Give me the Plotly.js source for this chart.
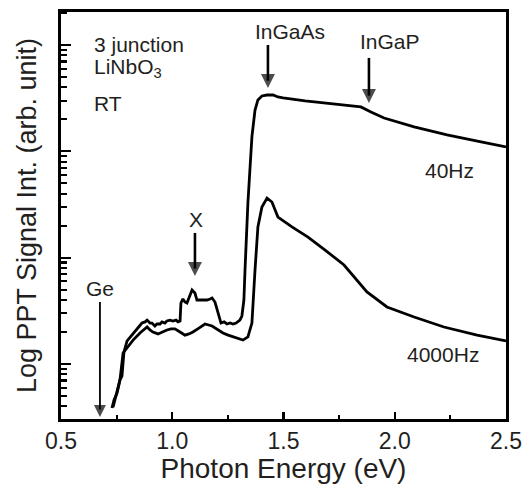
<!DOCTYPE html>
<html>
<head>
<meta charset="utf-8">
<script src="https://cdn.plot.ly/plotly-3.0.1.min.js"></script>
<style>html,body{margin:0;padding:0;background:#fff;}#chart{width:528px;height:484px;}</style>
</head>
<body>
<div id="chart"></div>
<script>
// Photon energy (eV) and signal (arb. unit)
const energy40 = [0.734,0.747,0.756,0.765,0.774,0.783,0.797,0.819,0.842,0.864,0.878,0.887,0.900,0.909,0.922,0.931,0.945,0.954,0.967,0.976,0.990,1.003,1.017,1.026,1.035,1.039,1.048,1.057,1.066,1.075,1.089,1.102,1.111,1.134,1.156,1.170,1.179,1.192,1.201,1.210,1.219,1.233,1.246,1.260,1.273,1.287,1.304,1.313,1.322,1.327,1.340,1.358,1.372,1.385,1.403,1.426,1.453,1.475,1.498,1.597,1.687,1.776,1.848,1.893,1.952,2.087,2.235,2.388,2.500];
const signal40 = [0.394,0.50,0.62,0.71,0.77,1.30,1.65,1.87,2.18,2.43,2.49,2.59,2.43,2.43,2.28,2.38,2.38,2.49,2.43,2.54,2.59,2.54,2.59,2.49,2.54,3.75,4.09,3.83,3.75,4.27,4.97,4.65,4.00,4.00,4.00,4.09,4.18,3.83,3.22,2.71,2.43,2.49,2.38,2.43,2.38,2.43,2.59,2.83,4.00,7.66,32.7,137,245,305,332,339,339,325,318,298,285,273,262,235,206,170,143,123,110];

const energy4000 = [0.729,0.738,0.752,0.756,0.765,0.779,0.801,0.824,0.855,0.873,0.887,0.900,0.913,0.936,0.954,0.976,0.994,1.012,1.035,1.057,1.075,1.093,1.120,1.147,1.179,1.206,1.228,1.251,1.273,1.296,1.318,1.340,1.349,1.358,1.372,1.385,1.403,1.426,1.448,1.475,1.538,1.610,1.687,1.772,1.875,1.965,2.087,2.221,2.370,2.500];
const signal4000 = [0.386,0.458,0.534,0.594,0.707,1.27,1.45,1.68,1.96,2.09,2.23,2.09,2.00,1.92,2.00,2.09,2.14,2.14,2.00,1.87,1.92,2.00,2.18,2.38,2.28,2.09,1.96,1.87,1.80,1.72,1.68,1.80,2.09,2.43,7.66,19.5,30.0,36.4,33.4,24.1,19.5,15.6,11.8,8.54,4.76,3.44,2.77,2.23,1.87,1.65];

const xTickVals = [0.5,1.0,1.5,2.0,2.5];
const xTickText = ["0.5","1.0","1.5","2.0","2.5"];

// Labelled band edges
const edgeLabels = ["Ge","X","InGaAs","InGaP"];
const edgeEnergy = [0.675,1.102,1.430,1.884];
// arrow tail / head heights (arb. unit)
const arrowTail = [3.83, 17.1, 1002, 757];
const arrowHead = [0.318, 6.73, 394, 285];

const FONT = "Liberation Sans, Arial, Helvetica, sans-serif";
const TXT = "#231f20";

const lineStyle = {color:"#000", width:2.8};
const traces = [
  {x: energy40, y: signal40, mode:"lines", line: lineStyle, name:"40Hz", hoverinfo:"skip"},
  {x: energy4000, y: signal4000, mode:"lines", line: lineStyle, name:"4000Hz", hoverinfo:"skip"}
];

// arrow shafts (Ge thinner) ending just inside the arrow heads
function shaft(idx, w){
  const xs = [], ys = [];
  idx.forEach(i => {
    xs.push(edgeEnergy[i], edgeEnergy[i], null);
    ys.push(arrowTail[i], arrowHead[i] * Math.pow(10, 0.07), null);
  });
  return {x:xs, y:ys, mode:"lines", line:{color:"#000", width:w}, hoverinfo:"skip", connectgaps:false};
}
traces.push(shaft([0], 1.8));
traces.push(shaft([1,2,3], 2.6));
traces.push({x: edgeEnergy, y: arrowHead, mode:"markers", hoverinfo:"skip",
  marker:{symbol:"arrow-down", size:[12,14,14,14], color:"#000", line:{width:0}}});

const ann = [];
function label(text, x, y, anchor){
  ann.push({x:x, y:y, xref:"x", yref:"y", text:text, showarrow:false,
    xanchor: anchor || "center", yanchor:"middle",
    font:{family:FONT, size:21, color:TXT}});
}
// labels (y in log10 units, as Plotly expects on log axes)
label(edgeLabels[0], 0.675, 0.715);
label(edgeLabels[1], 1.105, 1.355);
label(edgeLabels[2], 1.529, 3.125);
label(edgeLabels[3], 1.979, 3.029);
label("40Hz", 2.248, 1.816);
label("4000Hz", 2.217, 0.085);
label("3 junction", 0.639, 3.010, "left");
label("LiNbO<sub>3</sub>", 0.639, 2.78, "left");
label("RT", 0.639, 2.446, "left");

const layout = {
  width:528, height:484,
  margin:{l:61, r:22, t:12, b:65, pad:0},
  paper_bgcolor:"#fff", plot_bgcolor:"#fff",
  showlegend:false,
  font:{family:FONT, color:TXT},
  xaxis:{
    range:[0.5,2.5], tickmode:"array", tickvals:xTickVals, ticktext:xTickText,
    ticks:"inside", ticklen:7, tickwidth:2.2, tickcolor:"#000",
    minor:{ticks:"inside", ticklen:4, tickwidth:2.2, tickcolor:"#000", dtick:0.25, tick0:0.5, showgrid:false},
    showline:true, linewidth:2.6, linecolor:"#000", mirror:true,
    showgrid:false, zeroline:false,
    tickfont:{family:FONT, size:23, color:TXT},
    title:{text:"Photon Energy (eV)", font:{family:FONT, size:28, color:TXT}, standoff:10},
    automargin:false
  },
  yaxis:{
    type:"log", range:[-0.517, 3.311], dtick:1,
    ticks:"inside", ticklen:10, tickwidth:2.2, tickcolor:"#000",
    minor:{ticks:"inside", ticklen:6, tickwidth:2.2, tickcolor:"#000", dtick:"D1", showgrid:false},
    showticklabels:false,
    showline:true, linewidth:2.6, linecolor:"#000", mirror:true,
    showgrid:false, zeroline:false,
    title:{text:"Log PPT Signal Int. (arb. unit)", font:{family:FONT, size:27, color:TXT}, standoff:14},
    automargin:false
  },
  annotations: ann
};

Plotly.newPlot("chart", traces, layout, {staticPlot:true, displayModeBar:false});
</script>
</body>
</html>
